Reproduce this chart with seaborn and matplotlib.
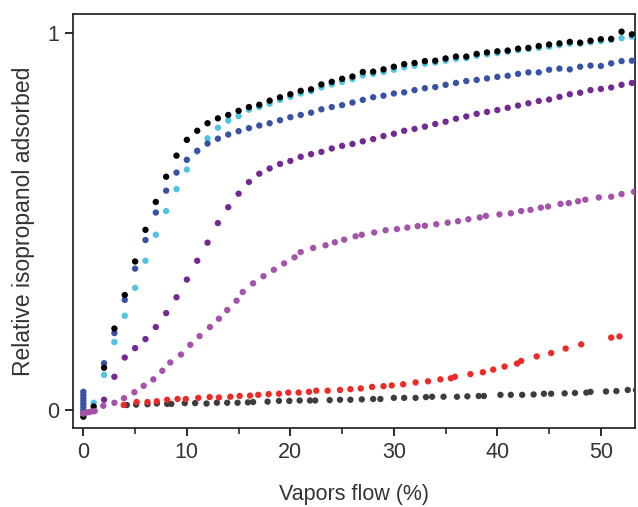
import numpy as np
import pandas as pd
import matplotlib
matplotlib.use("Agg")
import matplotlib.pyplot as plt
import seaborn as sns
from matplotlib.ticker import MultipleLocator

# ---------------- data ----------------
black_x = list(range(0, 54))
black_y = [-0.018, 0.009, 0.112, 0.216, 0.305, 0.394, 0.478, 0.552, 0.619, 0.675,
           0.717, 0.741, 0.761, 0.774, 0.783, 0.794, 0.804, 0.810, 0.821, 0.830,
           0.838, 0.847, 0.851, 0.864, 0.871, 0.879, 0.885, 0.897, 0.898, 0.904,
           0.911, 0.918, 0.921, 0.926, 0.927, 0.933, 0.938, 0.938, 0.945, 0.949,
           0.952, 0.954, 0.959, 0.961, 0.966, 0.970, 0.973, 0.977, 0.975, 0.980,
           0.984, 0.985, 1.004, 0.997]

cyan_x = list(range(1, 54))
cyan_y = [0.019, 0.093, 0.180, 0.250, 0.324, 0.396, 0.465, 0.528, 0.586, 0.638,
          0.686, 0.721, 0.749, 0.768, 0.780, 0.797, 0.804, 0.813, 0.823, 0.831,
          0.840, 0.846, 0.856, 0.864, 0.871, 0.878, 0.888, 0.892, 0.897, 0.903,
          0.910, 0.914, 0.919, 0.922, 0.927, 0.932, 0.934, 0.940, 0.944, 0.947,
          0.951, 0.955, 0.958, 0.961, 0.964, 0.968, 0.972, 0.972, 0.976, 0.979,
          0.982, 0.987, 0.991]

blue_x = [0, 0, 0, 0, 0, 0, 0] + list(range(2, 54))
blue_y = [0.048, 0.040, 0.032, 0.024, 0.016, 0.008, 0.000,
          0.124, 0.204, 0.292, 0.375, 0.451, 0.524, 0.582, 0.630, 0.664, 0.688,
          0.707, 0.720, 0.731, 0.740, 0.748, 0.755, 0.761, 0.769, 0.777, 0.783,
          0.789, 0.798, 0.804, 0.809, 0.816, 0.823, 0.830, 0.834, 0.840, 0.843,
          0.849, 0.854, 0.857, 0.863, 0.868, 0.873, 0.876, 0.880, 0.884, 0.887,
          0.892, 0.896, 0.896, 0.903, 0.906, 0.904, 0.911, 0.914, 0.913, 0.920,
          0.926, 0.927]

purple_x = list(range(0, 54))
purple_y = [-0.007, -0.003, 0.027, 0.088, 0.139, 0.164, 0.188, 0.220, 0.257, 0.299,
            0.346, 0.396, 0.444, 0.496, 0.538, 0.574, 0.605, 0.627, 0.641, 0.653,
            0.661, 0.672, 0.679, 0.685, 0.694, 0.701, 0.706, 0.713, 0.719, 0.727,
            0.733, 0.741, 0.746, 0.752, 0.759, 0.765, 0.773, 0.779, 0.786, 0.791,
            0.796, 0.802, 0.808, 0.814, 0.820, 0.824, 0.831, 0.838, 0.842, 0.849,
            0.852, 0.856, 0.863, 0.868]

magenta_x = [0.0, 0.2, 0.5, 0.8, 1.1, 1.93, 3.0, 3.93, 4.93, 5.83, 6.76, 7.63, 8.4,
             9.43, 10.33, 11.23, 12.23, 13.1, 13.9, 14.8, 15.4, 16.4, 17.4, 18.4,
             19.4, 20.4, 21.0, 22.2, 23.4, 24.3, 25.2, 26.3, 26.9, 28.1, 29.2, 30.3,
             31.3, 32.3, 33.0, 34.1, 35.2, 36.2, 37.2, 38.3, 38.9, 40.2, 41.3, 42.3,
             43.2, 44.2, 44.9, 46.1, 46.9, 47.8, 48.5, 49.8, 51.0, 52.0, 53.2]
magenta_y = [-0.010, -0.008, -0.006, -0.004, -0.003, 0.011, 0.019, 0.031, 0.047,
             0.064, 0.081, 0.104, 0.126, 0.147, 0.173, 0.196, 0.220, 0.242, 0.265,
             0.290, 0.313, 0.336, 0.355, 0.372, 0.389, 0.405, 0.419, 0.430, 0.437,
             0.445, 0.452, 0.461, 0.465, 0.471, 0.477, 0.480, 0.484, 0.488, 0.489,
             0.493, 0.497, 0.501, 0.506, 0.511, 0.515, 0.519, 0.522, 0.528, 0.531,
             0.537, 0.540, 0.547, 0.549, 0.554, 0.558, 0.564, 0.566, 0.573, 0.579]

red_x = [3.9, 5.15, 6.2, 7.1, 8.1, 9.1, 9.9, 11.1, 12.2, 13.1, 14.2, 15.1, 16.1,
         16.9, 17.9, 18.9, 19.8, 20.8, 21.8, 22.5, 23.6, 24.8, 25.8, 26.8, 27.9,
         29.0, 29.8, 30.9, 32.1, 33.3, 34.5, 35.5, 35.9, 37.4, 38.6, 39.6, 40.7,
         41.9, 42.3, 43.8, 45.2, 46.6, 48.1, 51.0, 51.8]
red_y = [0.013, 0.021, 0.021, 0.023, 0.027, 0.029, 0.029, 0.032, 0.034, 0.033,
         0.035, 0.037, 0.038, 0.040, 0.042, 0.043, 0.046, 0.046, 0.048, 0.051,
         0.051, 0.053, 0.055, 0.057, 0.061, 0.063, 0.065, 0.068, 0.073, 0.076,
         0.081, 0.084, 0.088, 0.095, 0.100, 0.107, 0.115, 0.123, 0.130, 0.142,
         0.151, 0.163, 0.174, 0.192, 0.195]

gray_x = [4.2, 5.1, 6.2, 7.1, 8.1, 8.5, 9.8, 10.8, 11.9, 12.9, 13.9, 14.9, 15.9,
          16.4, 17.8, 18.9, 19.9, 20.9, 21.9, 22.4, 23.8, 24.8, 25.8, 26.9, 28.0,
          28.7, 30.0, 31.0, 32.1, 33.1, 33.7, 34.8, 36.1, 37.1, 38.2, 38.7, 40.3,
          41.3, 42.4, 43.5, 44.5, 45.2, 46.5, 47.5, 48.6, 49.0, 50.5, 51.5, 52.6, 53.4]
gray_y = [0.013, 0.014, 0.015, 0.017, 0.016, 0.016, 0.018, 0.018, 0.017, 0.019,
          0.019, 0.019, 0.020, 0.021, 0.022, 0.024, 0.024, 0.025, 0.025, 0.025,
          0.026, 0.027, 0.027, 0.028, 0.029, 0.029, 0.032, 0.032, 0.032, 0.034,
          0.035, 0.035, 0.035, 0.036, 0.037, 0.037, 0.040, 0.040, 0.040, 0.041,
          0.043, 0.043, 0.044, 0.045, 0.046, 0.048, 0.049, 0.050, 0.053, 0.053]

x_ticks = [0, 10, 20, 30, 40, 50]
y_ticks = [0, 1]
x_label = "Vapors flow (%)"
y_label = "Relative isopropanol adsorbed"

# drawing order (first = bottom)
series = [
    ("gray", gray_x, gray_y, "#3d3d3d"),
    ("red", red_x, red_y, "#ee2a24"),
    ("purple", purple_x, purple_y, "#742a94"),
    ("cyan", cyan_x, cyan_y, "#4fc4e0"),
    ("blue", blue_x, blue_y, "#3a52a6"),
    ("black", black_x, black_y, "#000000"),
    ("magenta", magenta_x, magenta_y, "#a452aa"),
]

frames = [pd.DataFrame({"x": xs, "y": ys, "series": name}) for name, xs, ys, _ in series]
df = pd.concat(frames, ignore_index=True)
palette = {name: col for name, _, _, col in series}

# ---------------- style ----------------
sns.set_style("ticks")
plt.rcParams["font.family"] = ["Liberation Sans", "DejaVu Sans"]
text_col = "#333333"

fig = plt.figure(figsize=(6.38, 5.07), dpi=100)
ax = fig.add_axes([73 / 638, 1 - 428 / 507, (635 - 73) / 638, (428 - 14) / 507])

sns.scatterplot(data=df, x="x", y="y", hue="series", hue_order=[s[0] for s in series],
                palette=palette, s=21, linewidth=0, legend=False, ax=ax, zorder=3)

ax.set_xlim(-1.0, 53.3)
ax.set_ylim(-0.048, 1.051)
ax.set_xticks(x_ticks)
ax.xaxis.set_minor_locator(MultipleLocator(5))
ax.set_yticks(y_ticks)
ax.set_xticklabels([str(t) for t in x_ticks])
ax.set_yticklabels([str(t) for t in y_ticks])

for sp in ax.spines.values():
    sp.set_visible(True)
    sp.set_linewidth(1.2)
    sp.set_color("#1a1a1a")

ax.tick_params(axis="both", which="major", direction="out", length=6, width=1.3,
               color="#1a1a1a", labelsize=15.5, labelcolor=text_col, pad=4)
ax.tick_params(axis="x", which="minor", direction="out", length=4, width=1.1,
               color="#1a1a1a")
ax.tick_params(top=False, right=False, which="both")

ax.set_xlabel(x_label, fontsize=15.5, color=text_col)
ax.set_ylabel(y_label, fontsize=16.5, color=text_col)
ax.xaxis.set_label_coords(0.5, -0.135)
ax.yaxis.set_label_coords(-0.068, 0.5)

fig.savefig("out.png", dpi=100)
